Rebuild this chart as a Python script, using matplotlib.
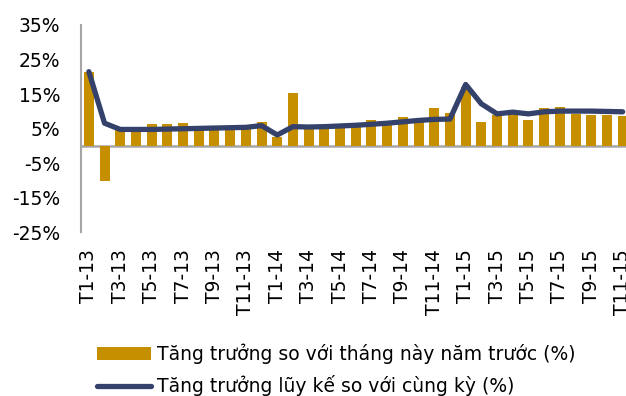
import numpy as np
import matplotlib
matplotlib.use("Agg")
from matplotlib import pyplot as plt

# months T1-13 .. T11-15
months = [f"T{m}-{y}" for y in (13, 14, 15) for m in range(1, 13)][:35]

# year-on-year growth of the month (%)
yoy = [21.5, -10.2, 4.6, 4.6, 6.4, 6.3, 6.8, 4.8, 4.9, 5.0, 5.2, 6.9,
       2.6, 15.2, 4.8, 5.0, 5.2, 5.6, 7.4, 6.3, 8.5, 7.4, 11.0, 9.5,
       17.2, 6.9, 9.0, 9.9, 7.4, 11.0, 11.2, 9.4, 9.0, 8.9, 8.8]

# cumulative growth vs same period (%)
cumulative = [21.5, 6.6, 4.8, 4.8, 4.8, 4.9, 5.0, 5.1, 5.2, 5.3, 5.4, 5.9,
              3.2, 5.6, 5.5, 5.6, 5.8, 6.0, 6.3, 6.6, 7.0, 7.4, 7.7, 7.8,
              17.8, 12.2, 9.3, 9.8, 9.3, 9.9, 10.1, 10.1, 10.1, 10.0, 9.9]

yticks = [-25, -15, -5, 5, 15, 25, 35]

bar_color = "#C68F00"
line_color = "#34426B"
axis_color = "#A6A6A6"
fs = 13.5

fig = plt.figure(figsize=(6.26, 3.96), dpi=100)
ax = fig.add_axes([0.1294, 0.4129, 0.8778, 0.524])

x = np.arange(len(months))
bars = ax.bar(x, yoy, width=0.64, color=bar_color, zorder=2,
              label="Tăng trưởng so với tháng này năm trước (%)")
line, = ax.plot(x, cumulative, color=line_color, linewidth=3.8,
                solid_capstyle="round", solid_joinstyle="round", zorder=3,
                label="Tăng trưởng lũy kế so với cùng kỳ (%)")

ax.set_xlim(-0.5, len(months) - 0.5)
ax.set_ylim(-25, 35)
ax.set_yticks(yticks)
ax.set_yticklabels([f"{v}%" for v in yticks], fontsize=fs)
ax.set_xticks(x[::2])
ax.set_xticklabels(months[::2], rotation=90, fontsize=fs)
ax.tick_params(axis="y", length=0, pad=15)
ax.tick_params(axis="x", length=0, pad=12)

for s in ("top", "right", "bottom"):
    ax.spines[s].set_visible(False)
ax.spines["left"].set_color(axis_color)
ax.spines["left"].set_linewidth(1.5)
ax.axhline(0, color=axis_color, linewidth=1.8, zorder=1)

fig.legend(handles=[bars, line], loc="upper left",
           bbox_to_anchor=(0.155, 0.132), frameon=False, fontsize=fs,
           handlelength=2.9, handletextpad=0.3, labelspacing=0.6,
           borderpad=0, borderaxespad=0)

fig.savefig("out.png", dpi=100)
